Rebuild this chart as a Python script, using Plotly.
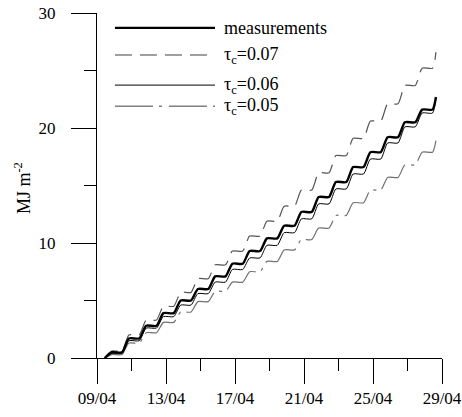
import plotly.graph_objects as go

# ---- data (cumulative MJ m-2 reached at the end of each day's rise) ----
days = list(range(9, 29))  # April 9 .. 28
start_day = 9.45
end_day = 28.65
rise_start = 0.45   # fraction of day when daily increase starts
rise_end = 0.85     # fraction of day when daily increase ends

measurements = [0.5, 1.7, 2.8, 3.9, 5.0, 6.0, 7.1, 8.2, 9.3, 10.4,
                11.5, 12.7, 14.0, 15.3, 16.6, 17.9, 19.2, 20.5, 21.6, 22.7]
tau_007 = [0.6, 2.0, 3.3, 4.5, 5.7, 6.9, 8.1, 9.3, 10.6, 11.9,
           13.2, 14.6, 16.1, 17.6, 19.1, 20.6, 22.1, 23.7, 25.2, 26.6]
tau_006 = [0.4, 1.5, 2.6, 3.6, 4.6, 5.6, 6.6, 7.7, 8.7, 9.8,
           10.9, 12.1, 13.4, 14.7, 16.0, 17.3, 18.7, 20.1, 21.3, 22.6]
tau_005 = [0.3, 1.3, 2.2, 3.1, 4.0, 4.9, 5.8, 6.6, 7.5, 8.4,
           9.4, 10.3, 11.3, 12.4, 13.5, 14.6, 15.7, 16.8, 17.9, 18.9]

x_ticks = [9, 13, 17, 21, 25, 29]
x_ticktext = ["09/04", "13/04", "17/04", "21/04", "25/04", "29/04"]
y_ticks = [0, 10, 20, 30]


def steps(plateaus):
    xs, ys = [start_day], [0.0]
    prev = 0.0
    for d, v in zip(days, plateaus):
        a = max(d + rise_start, start_day)
        b = min(d + rise_end, end_day)
        if a > xs[-1]:
            xs.append(a)
            ys.append(prev)
        xs.append(b)
        ys.append(v)
        prev = v
    if xs[-1] < end_day:
        xs.append(end_day)
        ys.append(prev)
    return xs, ys


FONT = "Liberation Serif"
FS = 17
fig = go.Figure()

series = [
    ("τc=0.05", tau_005, dict(color="#707070", width=1.2, dash="38px,6px,3px,6px")),
    ("τc=0.07", tau_007, dict(color="#555555", width=1.2, dash="16px,8px")),
    ("τc=0.06", tau_006, dict(color="#000000", width=1)),
    ("measurements", measurements, dict(color="#000000", width=2.4)),
]
for name, vals, line in series:
    xs, ys = steps(vals)
    fig.add_trace(go.Scatter(x=xs, y=ys, mode="lines", name=name,
                             line=dict(shape="spline", smoothing=0.6, **line),
                             showlegend=False, hoverinfo="skip"))

# ---- custom legend (lines + labels) ----
leg = [
    ("measurements", dict(color="#000000", width=2.4)),
    ("τ<sub>c</sub>=0.07", dict(color="#808080", width=1.5, dash="17px,8px")),
    ("τ<sub>c</sub>=0.06", dict(color="#000000", width=1)),
    ("τ<sub>c</sub>=0.05", dict(color="#808080", width=1.5, dash="38px,6px,3px,7px")),
]
leg_y = [0.957, 0.878, 0.791, 0.730]
for (txt, ln), yy in zip(leg, leg_y):
    fig.add_shape(type="line", xref="paper", yref="paper",
                  x0=0.052, x1=0.342, y0=yy, y1=yy, line=ln)
    fig.add_annotation(xref="paper", yref="paper", x=0.362, y=yy,
                       text=txt, showarrow=False, xanchor="left", yanchor="middle",
                       font=dict(family=FONT, size=18, color="black"))

fig.add_annotation(xref="paper", yref="paper", x=-0.214, y=0.493,
                   text="MJ m<sup>-2</sup>", textangle=-90, showarrow=False,
                   xanchor="center", yanchor="middle",
                   font=dict(family=FONT, size=18, color="black"))

fig.update_layout(
    width=462, height=417,
    margin=dict(l=97, r=20, t=13, b=59),
    paper_bgcolor="white", plot_bgcolor="white",
    font=dict(family=FONT, size=FS, color="black"),
)
fig.update_xaxes(range=[9, 29], tickvals=x_ticks, ticktext=x_ticktext,
                 automargin=False, tickfont=dict(family=FONT, size=FS),
                 ticklabeloverflow="allow",
                 ticks="outside", ticklen=25, tickwidth=1, tickcolor="black",
                 showline=True, linecolor="black", linewidth=1,
                 showgrid=False, zeroline=False, ticklabelstandoff=0,
                 minor=dict(ticks="outside", ticklen=12, dtick=2, tick0=9,
                            tickcolor="black", tickwidth=1, showgrid=False))
fig.update_yaxes(range=[0, 30], tickvals=y_ticks,
                 automargin=False, tickfont=dict(family=FONT, size=FS),
                 ticklabeloverflow="allow",
                 ticks="outside", ticklen=25, tickwidth=1, tickcolor="black",
                 showline=True, linecolor="black", linewidth=1,
                 showgrid=False, zeroline=False, ticklabelstandoff=12,
                 minor=dict(ticks="outside", ticklen=12, dtick=5, tick0=0,
                            tickcolor="black", tickwidth=1, showgrid=False))

fig.write_html("out.html", config={"displayModeBar": False},
               post_script="document.body.style.margin='0';")
